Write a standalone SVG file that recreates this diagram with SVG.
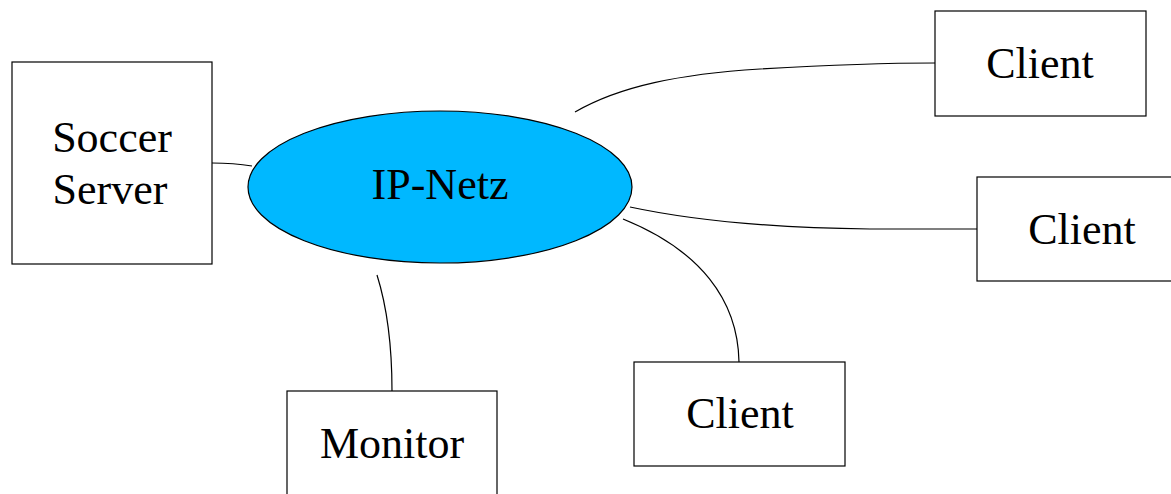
<svg xmlns="http://www.w3.org/2000/svg" width="1171" height="494" viewBox="0 0 1171 494">
  <style>
    .box { fill: #ffffff; stroke: #000000; stroke-width: 1.2; }
    .net { fill: #00b8ff; stroke: #000000; stroke-width: 1.2; }
    .wire { fill: none; stroke: #000000; stroke-width: 1.2; }
    .label { font-family: "Liberation Serif", "Times New Roman", serif; font-size: 44px; fill: #000000; text-anchor: middle; }
  </style>
  <rect width="1171" height="494" fill="#ffffff"/>

  <g id="connectors">
    <path class="wire" d="M212,163 C228,163 240,164 252,166"/>
    <path class="wire" d="M575,112 C620,86 680,74 760,69 C830,65 880,63 935,63"/>
    <path class="wire" d="M630,207 C700,222 780,228 870,229 C920,229 950,229 977,229"/>
    <path class="wire" d="M623,219 C700,250 738,300 739,362"/>
    <path class="wire" d="M377,275 C388,310 392,350 392,391"/>
  </g>

  <g id="ip-netz">
    <ellipse class="net" cx="440" cy="187" rx="192" ry="76"/>
    <text class="label" x="440" y="199">IP-Netz</text>
  </g>

  <g id="soccer-server">
    <rect class="box" x="12" y="62" width="200" height="202"/>
    <text class="label" x="112" y="152">Soccer</text>
    <text class="label" x="110" y="204">Server</text>
  </g>

  <g id="client-top">
    <rect class="box" x="935" y="11" width="211" height="105"/>
    <text class="label" x="1040" y="78">Client</text>
  </g>

  <g id="client-right">
    <rect class="box" x="977" y="177" width="211" height="104"/>
    <text class="label" x="1082" y="244">Client</text>
  </g>

  <g id="client-bottom">
    <rect class="box" x="634" y="362" width="211" height="104"/>
    <text class="label" x="740" y="428">Client</text>
  </g>

  <g id="monitor">
    <rect class="box" x="287" y="391" width="210" height="110"/>
    <text class="label" x="392" y="458">Monitor</text>
  </g>
</svg>
